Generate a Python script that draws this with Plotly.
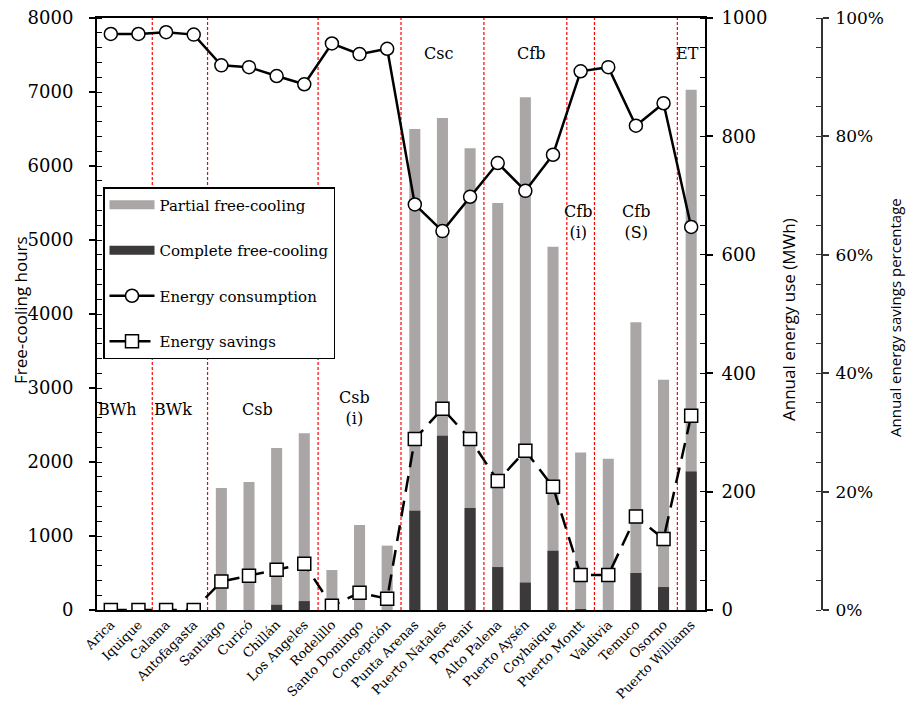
import plotly.graph_objects as go

cities = ["Arica", "Iquique", "Calama", "Antofagasta", "Santiago", "Curicó", "Chillán",
          "Los Angeles", "Rodelillo", "Santo Domingo", "Concepción", "Punta Arenas",
          "Puerto Natales", "Porvenir", "Alto Palena", "Puerto Aysén", "Coyhaique",
          "Puerto Montt", "Valdivia", "Temuco", "Osorno", "Puerto Williams"]

partial_hours = [0, 0, 0, 0, 1650, 1730, 2190, 2390, 540, 1150, 870, 6500,
                 6650, 6240, 5500, 6930, 4910, 2130, 2045, 3890, 3110, 7030]
complete_hours = [0, 0, 0, 0, 0, 0, 70, 120, 0, 0, 0, 1340,
                  2355, 1380, 580, 370, 800, 10, 0, 500, 310, 1870]
energy_use = [973, 973, 976, 972, 920, 917, 902, 888, 957, 939, 948, 685,
              640, 698, 755, 708, 769, 910, 917, 818, 856, 647]
energy_savings = [0, 0, 0, 0, 4.8, 5.8, 6.8, 7.8, 0.7, 2.9, 1.9, 28.9,
                  34.0, 28.9, 21.8, 26.9, 20.8, 5.9, 5.9, 15.8, 12.0, 32.8]

zone_labels = ["BWh", "BWk", "Csb", "Csb<br>(i)", "Csc", "Cfb", "Cfb<br>(i)", "Cfb<br>(S)", "ET"]
zone_label_x = [0.25, 2.25, 5.3, 8.8, 11.85, 15.2, 16.9, 19.0, 20.87]
zone_label_y = [2716, 2716, 2716, 2730, 7527, 7527, 5243, 5243, 7527]
zone_boundaries = [1.5, 3.5, 7.5, 10.5, 13.5, 16.5, 17.5, 20.5]

SERIF = "DejaVu Serif"
SANS = "Open Sans"
PARTIAL_C = "#aaa6a6"
COMPLETE_C = "#3b3939"

fig = go.Figure()
fig.add_trace(go.Bar(x=cities, y=partial_hours, name="Partial free-cooling",
                     marker=dict(color=PARTIAL_C, line=dict(width=0)), width=0.4,
                     showlegend=False, yaxis="y"))
fig.add_trace(go.Bar(x=cities, y=complete_hours, name="Complete free-cooling",
                     marker=dict(color=COMPLETE_C, line=dict(width=0)), width=0.4,
                     showlegend=False, yaxis="y"))
# legend-only entries drawn as wide swatches
fig.add_trace(go.Scatter(x=[None], y=[None], mode="lines", name="Partial free-cooling",
                         line=dict(color=PARTIAL_C, width=9), legendgroup="a", yaxis="y"))
fig.add_trace(go.Scatter(x=[None], y=[None], mode="lines", name="Complete free-cooling",
                         line=dict(color=COMPLETE_C, width=9), legendgroup="b", yaxis="y"))
fig.add_trace(go.Scatter(x=cities, y=energy_use, name="Energy consumption", mode="lines+markers",
                         line=dict(color="black", width=2.5),
                         marker=dict(symbol="circle", size=13, color="white",
                                     line=dict(color="black", width=1.5)),
                         legendgroup="c", yaxis="y2"))
fig.add_trace(go.Scatter(x=cities, y=energy_savings, name="Energy savings", mode="lines+markers",
                         line=dict(color="black", width=2.5, dash="16px,9px"),
                         marker=dict(symbol="square", size=13, color="white",
                                     line=dict(color="black", width=1.5)),
                         legendgroup="d", yaxis="y3"))

W, H = 906, 705
ml, mr, mt, mb = 97, 20, 18, 95
ph = H - mt - mb          # 592
pw = W - ml - mr
dom_end = (705 - ml) / pw
pos3 = (822 - ml) / pw


def px_x(sx):
    return (sx - ml) / pw


def px_y(sy):
    return (H - mb - sy) / ph


shapes = []
for b in zone_boundaries:
    shapes.append(dict(type="line", xref="x", yref="y domain", x0=b, x1=b, y0=0, y1=1,
                       line=dict(color="red", width=1.2, dash="3px,2px"), layer="below"))

annotations = []
for t, xx, yy in zip(zone_labels, zone_label_x, zone_label_y):
    annotations.append(dict(text=t, x=xx, y=yy, xref="x", yref="y", showarrow=False,
                            font=dict(family=SERIF, size=16, color="black")))

annotations.append(dict(text="Free-cooling hours", textangle=-90, xref="paper", yref="paper",
                        x=px_x(20), y=px_y(310), showarrow=False,
                        font=dict(family=SANS, size=17, color="black"),
                        xanchor="center", yanchor="middle"))
annotations.append(dict(text="Annual energy use (MWh)", textangle=-90, xref="paper", yref="paper",
                        x=px_x(788), y=px_y(320), showarrow=False,
                        font=dict(family=SANS, size=17, color="black"),
                        xanchor="center", yanchor="middle"))
annotations.append(dict(text="Annual energy savings percentage", textangle=-90, xref="paper", yref="paper",
                        x=px_x(895), y=px_y(318), showarrow=False,
                        font=dict(family=SANS, size=15, color="black"),
                        xanchor="center", yanchor="middle"))

fig.update_layout(
    width=W, height=H,
    margin=dict(l=ml, r=mr, t=mt, b=mb, autoexpand=False),
    paper_bgcolor="white", plot_bgcolor="white",
    barmode="overlay",
    font=dict(family=SERIF, color="black"),
    xaxis=dict(domain=[0, dom_end], type="category", range=[-0.5, 21.5], automargin=False,
               showline=True, linecolor="black", linewidth=2, mirror=True,
               ticks="", tickangle=-45, tickfont=dict(family=SERIF, size=13, color="black"),
               ticklabeloverflow="allow", showgrid=False),
    yaxis=dict(range=[0, 8000], dtick=1000, showline=True, linecolor="black", linewidth=2,
               automargin=False, ticklabeloverflow="allow", ticklabelstandoff=12,
               ticks="outside", ticklen=6, tickwidth=1.5, tickcolor="black",
               minor=dict(ticks="inside", dtick=200, ticklen=5, tickcolor="black", tickwidth=1),
               tickfont=dict(family=SERIF, size=18, color="black"), showgrid=False, zeroline=False),
    yaxis2=dict(range=[0, 1000], dtick=200, overlaying="y", side="right", anchor="x",
                automargin=False, ticklabeloverflow="allow", ticklabelstandoff=5,
                showline=True, linecolor="black", linewidth=2,
                ticks="outside", ticklen=6, tickwidth=1.5, tickcolor="black",
                minor=dict(ticks="inside", dtick=50, ticklen=5, tickcolor="black", tickwidth=1),
                tickfont=dict(family=SERIF, size=18, color="black"), showgrid=False, zeroline=False),
    yaxis3=dict(range=[0, 100], dtick=20, ticksuffix="%", overlaying="y", side="right",
                anchor="free", position=pos3, automargin=False, ticklabeloverflow="allow",
                ticklabelstandoff=3,
                showline=True, linecolor="#333", linewidth=2,
                ticks="outside", ticklen=6, tickwidth=1.5, tickcolor="#333",
                minor=dict(ticks="inside", dtick=5, ticklen=5, tickcolor="#333", tickwidth=1),
                tickfont=dict(family=SERIF, size=17, color="black"), showgrid=False, zeroline=False),
    legend=dict(x=px_x(103), y=px_y(187), xanchor="left", yanchor="top",
                bgcolor="white", bordercolor="black", borderwidth=1.5,
                font=dict(family=SERIF, size=15, color="black"),
                traceorder="grouped", tracegroupgap=23, itemwidth=45),
    shapes=shapes,
    annotations=annotations,
    showlegend=True,
)

fig.write_html("out.html", config={"displayModeBar": False},
               post_script="document.body.style.margin='0px';document.body.style.overflow='hidden';")
